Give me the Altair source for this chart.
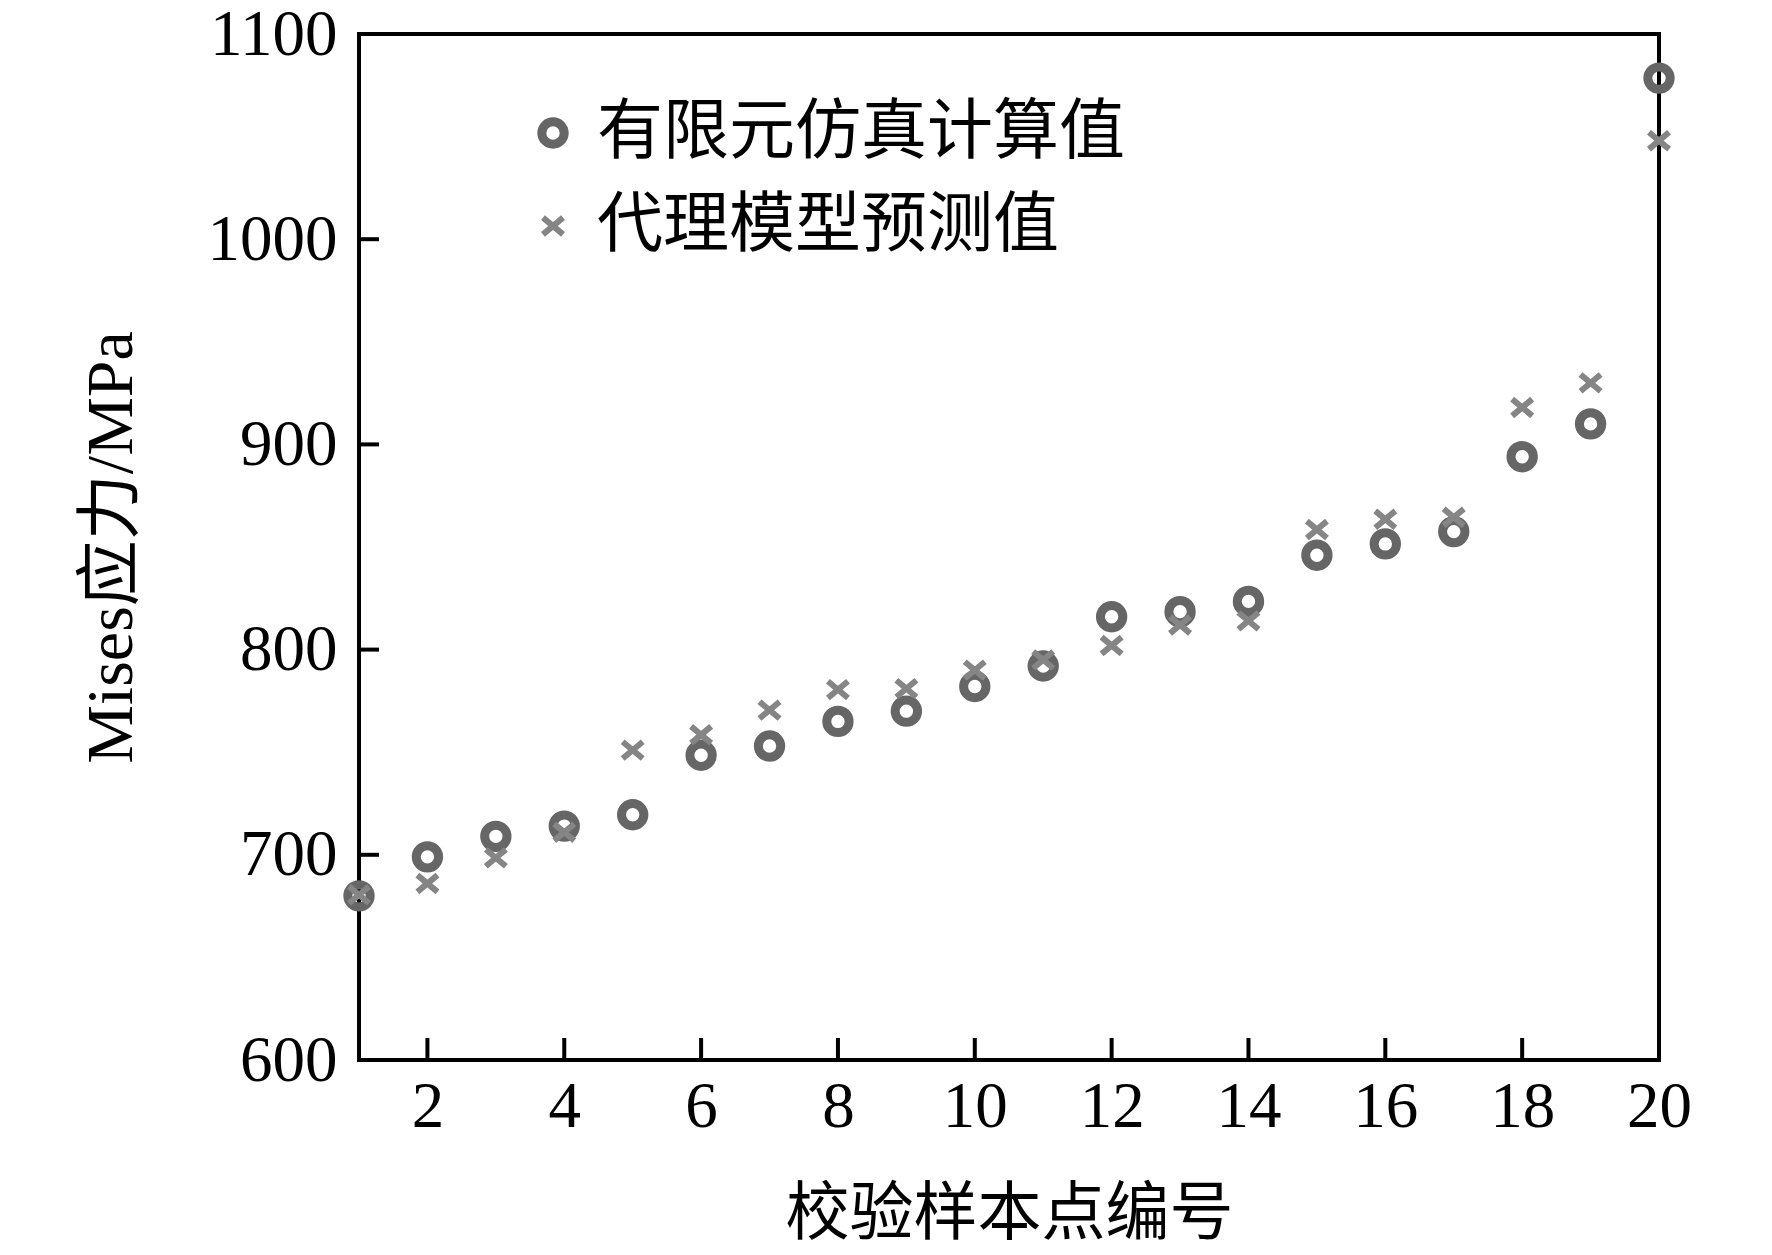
import altair as alt
import pandas as pd

# sample point index
samples = list(range(1, 21))
# finite-element simulated values (MPa)
fe_values = [680, 699, 709, 714, 719.5, 748.5, 753, 765, 770, 782,
             792, 816, 818.5, 823.5, 846, 851.5, 857.5, 894, 910, 1078.5]
# surrogate model predictions (MPa)
sm_values = [680.5, 686, 698.5, 711, 751, 758.5, 770.5, 780.5, 781, 790,
             795, 802, 812, 814, 858.5, 863.5, 864.5, 918, 930, 1048]

series_names = ["有限元仿真计算值", "代理模型预测值"]
x_ticks = [2, 4, 6, 8, 10, 12, 14, 16, 18, 20]
y_ticks = [600, 700, 800, 900, 1000, 1100]

rows = []
for s, v in zip(samples, fe_values):
    rows.append({"sample": s, "value": v, "series": series_names[0]})
for s, v in zip(samples, sm_values):
    rows.append({"sample": s, "value": v, "series": series_names[1]})
df = pd.DataFrame(rows)
df["order"] = [0] * len(samples) + [1] * len(samples)

W, H = 1300, 1026
SERIF = "Liberation Serif, Noto Sans CJK SC"
CROSS = "M-0.9,-0.75L0.9,0.75M-0.9,0.75L0.9,-0.75"

xscale = alt.Scale(domain=[1, 20], nice=False, zero=False)
yscale = alt.Scale(domain=[600, 1100], nice=False, zero=False)

points = alt.Chart(df).mark_point(filled=False, opacity=1, size=500).encode(
    x=alt.X("sample:Q", scale=xscale,
            axis=alt.Axis(values=x_ticks, format="d", ticks=False, domain=False, grid=False,
                          labelFont="Liberation Serif", labelFontSize=65,
                          labelColor="black", labelPadding=15, labelFlush=False,
                          title="校验样本点编号", titleFont=SERIF, titleFontSize=64,
                          titleFontWeight="normal", titleColor="black",
                          titleX=W / 2, titleY=154, titleBaseline="middle",
                          titleAlign="center")),
    y=alt.Y("value:Q", scale=yscale,
            axis=alt.Axis(values=y_ticks, format="d", ticks=False, domain=False, grid=False,
                          labelFont="Liberation Serif", labelFontSize=65,
                          labelColor="black", labelPadding=22, labelFlush=False,
                          title="Mises应力/MPa", titleFont=SERIF, titleFontSize=66,
                          titleFontWeight="normal", titleColor="black",
                          titleAngle=-90, titleX=-248, titleY=H / 2,
                          titleAlign="center", titleBaseline="middle")),
    color=alt.Color("series:N", sort=series_names,
                    scale=alt.Scale(domain=series_names, range=["#666666", "#858585"]),
                    legend=alt.Legend(title=None, orient="none", legendX=161, legendY=66,
                                      labelFont="Noto Sans CJK SC", labelFontSize=66,
                                      labelColor="black", labelOffset=11,
                                      symbolSize=500, symbolStrokeWidth=8,
                                      symbolOpacity=1, rowPadding=27, padding=0,
                                      labelLimit=0)),
    shape=alt.Shape("series:N", sort=series_names,
                    scale=alt.Scale(domain=series_names, range=["circle", CROSS])),
    strokeWidth=alt.StrokeWidth("series:N",
                                scale=alt.Scale(domain=series_names, range=[9, 6]),
                                legend=None),
    order=alt.Order("order:Q"),
)

xt = pd.DataFrame({"t": x_ticks})
yt = pd.DataFrame({"t": y_ticks})

x_tick_rules = alt.Chart(xt).mark_rule(color="black", strokeWidth=4).encode(
    x=alt.X("t:Q", scale=xscale),
    y=alt.value(H),
    y2=alt.value(H - 22),
)
y_tick_rules = alt.Chart(yt).mark_rule(color="black", strokeWidth=4).encode(
    y=alt.Y("t:Q", scale=yscale),
    x=alt.value(0),
    x2=alt.value(20),
)

chart = alt.layer(x_tick_rules, y_tick_rules, points).properties(
    width=W, height=H,
    autosize=alt.AutoSizeParams(type="none"),
    padding={"left": 351, "top": 26, "right": 105, "bottom": 187},
    background="white",
).configure_view(stroke="black", strokeWidth=4)

chart.save("out.html", embed_options={"renderer": "svg", "actions": False})
